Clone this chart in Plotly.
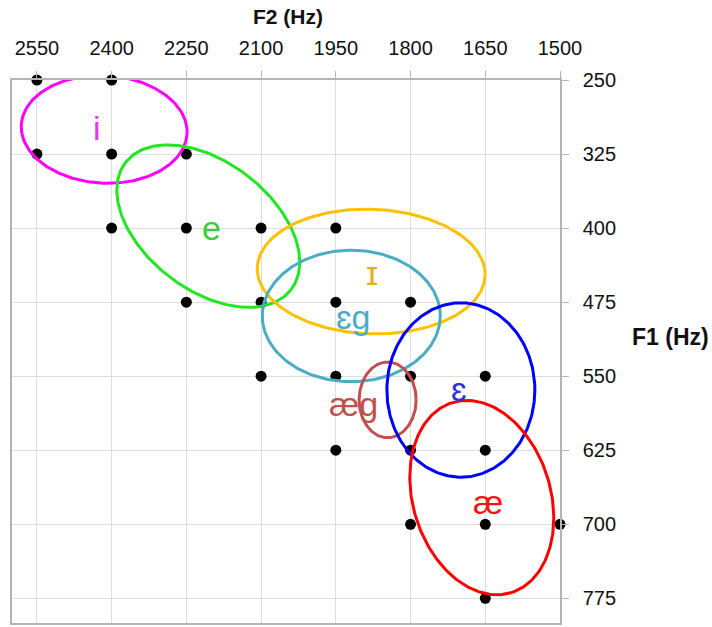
import numpy as np
import plotly.graph_objects as go

# ---- data ----
F2_TICKS = [2550, 2400, 2250, 2100, 1950, 1800, 1650, 1500]
F1_TICKS = [250, 325, 400, 475, 550, 625, 700, 775]

point_f2 = [2550, 2400,
            2550, 2400, 2250,
            2400, 2250, 2100, 1950,
            2250, 2100, 1950, 1800,
            2100, 1950, 1800, 1650,
            1950, 1800, 1650,
            1800, 1650, 1500,
            1650]
point_f1 = [250, 250,
            325, 325, 325,
            400, 400, 400, 400,
            475, 475, 475, 475,
            550, 550, 550, 550,
            625, 625, 625,
            700, 700, 700,
            775]

vowel_labels = ["i", "e", "ɪ", "ɛg", "æg", "ɛ", "æ"]
label_f2 = [2430, 2199, 1877, 1915, 1915, 1703, 1644]
label_f1 = [299, 400, 445, 490, 578, 563, 677]
label_colors = ["#f030f0", "#3ccc3c", "#e8b020", "#4bacc6", "#c0504d", "#3333cc", "#ff1010"]

# ellipse regions: centre (F2, F1), semi-axes in screen px, tilt in degrees
ell_f2 = [2415, 2206, 1879, 1919, 1846, 1699, 1657]
ell_f1 = [300, 398, 444, 489, 574, 564, 673]
ell_a = [83, 104.5, 114, 89, 28.5, 74, 99.8]
ell_b = [54, 64, 62.5, 66, 38, 87.5, 68.8]
ell_tilt = [3, 37.7, 2, 0, 0, 0, 73]
ell_colors = ["#ff00ff", "#22e622", "#ffc000", "#4bacc6", "#c0504d", "#0000ff", "#ff0000"]

X_RANGE = [2600, 1500]
Y_RANGE = [800, 250]
W, H = 712, 627
M = dict(l=12, r=152, t=80, b=2)
plot_w = W - M["l"] - M["r"]
plot_h = H - M["t"] - M["b"]
sx = abs(X_RANGE[0] - X_RANGE[1]) / plot_w
sy = abs(Y_RANGE[0] - Y_RANGE[1]) / plot_h

fig = go.Figure()

fig.add_trace(go.Scatter(
    x=point_f2, y=point_f1, mode="markers",
    marker=dict(color="black", size=11),
    cliponaxis=False, hoverinfo="skip", showlegend=False))

t = np.linspace(0, 2 * np.pi, 241)
for cx, cy, a, b, ang, col in zip(ell_f2, ell_f1, ell_a, ell_b, ell_tilt, ell_colors):
    th = np.radians(ang)
    u = a * np.cos(t)
    v = b * np.sin(t)
    dx = u * np.cos(th) - v * np.sin(th)
    dy = u * np.sin(th) + v * np.cos(th)
    fig.add_trace(go.Scatter(
        x=cx - dx * sx, y=cy + dy * sy, mode="lines",
        line=dict(color=col, width=3),
        hoverinfo="skip", showlegend=False))

for txt, x, y, c in zip(vowel_labels, label_f2, label_f1, label_colors):
    fig.add_annotation(x=x, y=y, xref="x", yref="y", text=txt, showarrow=False,
                       font=dict(size=34, color=c, family="Liberation Sans, Arial, sans-serif"))

fig.add_annotation(x=(288 - M["l"]) / plot_w, y=1 + (M["t"] - 16) / plot_h,
                   xref="paper", yref="paper",
                   text="<b>F2 (Hz)</b>", showarrow=False,
                   xanchor="center", yanchor="middle",
                   font=dict(size=21, color="#111111"))
fig.add_annotation(x=(671 - M["l"]) / plot_w, y=1 - (338 - M["t"]) / plot_h,
                   xref="paper", yref="paper", text="<b>F1 (Hz)</b>", showarrow=False,
                   xanchor="center", yanchor="middle",
                   font=dict(size=23, color="#111111"))

axis_common = dict(
    showgrid=True, gridcolor="#dedede", gridwidth=1,
    showline=True, linecolor="#b4b4b4", linewidth=1.5, mirror=True,
    ticks="outside", ticklen=7, tickcolor="#b4b4b4", tickwidth=1,
    zeroline=False, tickfont=dict(size=20, color="#111111"),
)

fig.update_layout(
    width=W, height=H, margin=M,
    paper_bgcolor="white", plot_bgcolor="white",
    font=dict(family="Liberation Sans, Arial, sans-serif"),
    xaxis=dict(side="top", range=X_RANGE, tickvals=F2_TICKS,
               ticklabelstandoff=8, **axis_common),
    yaxis=dict(side="right", range=Y_RANGE, tickvals=F1_TICKS,
               ticklabelstandoff=10, **axis_common),
)

fig.write_html("out.html", config={"displayModeBar": False},
               post_script="document.body.style.margin='0';")
